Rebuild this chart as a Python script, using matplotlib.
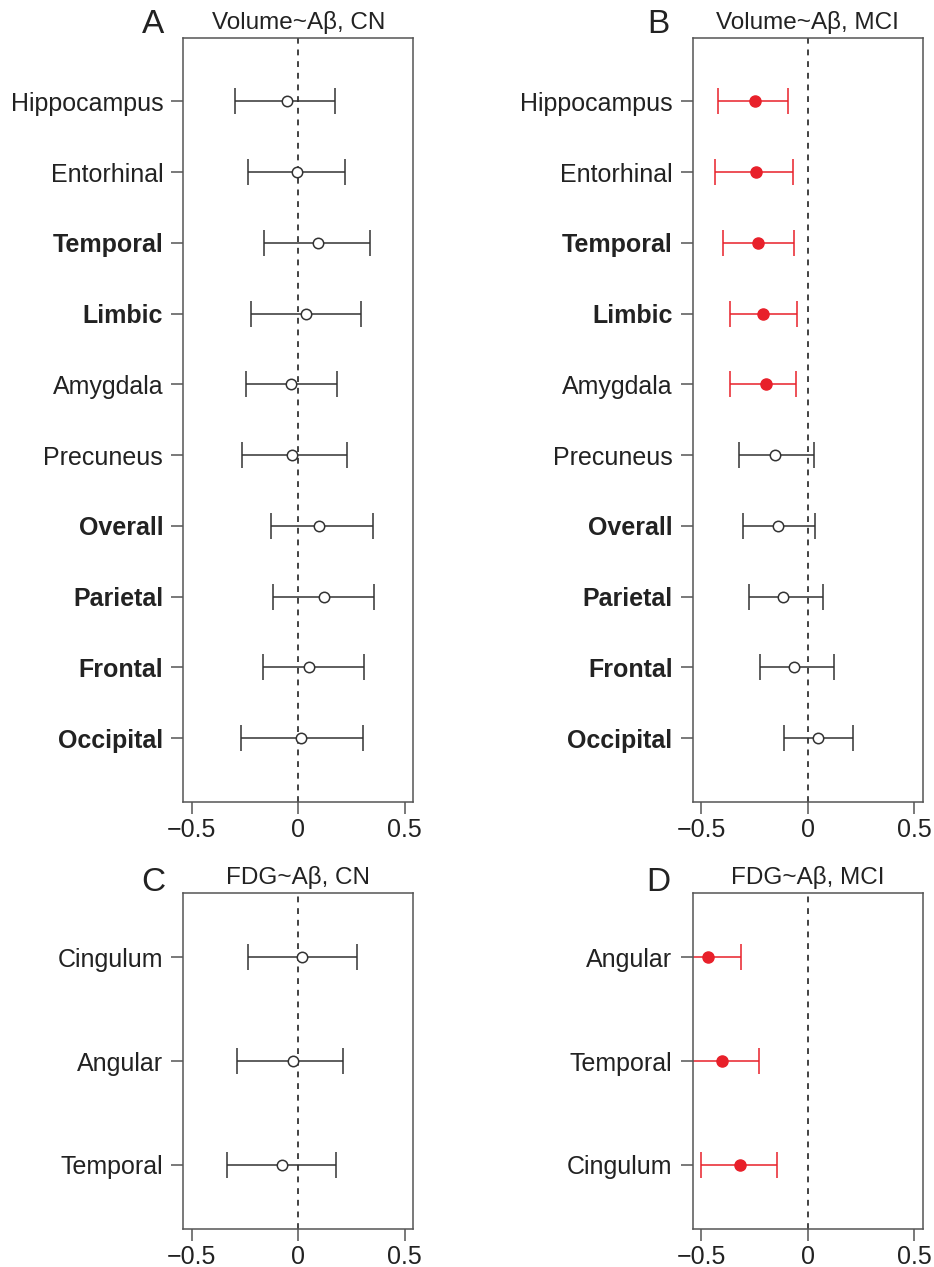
"""Forest plots of regional Abeta associations (volume and FDG)."""

import matplotlib
matplotlib.use("Agg")
import matplotlib.pyplot as plt

plt.rcParams["font.family"] = ["Liberation Sans", "DejaVu Sans"]

# --- data ----------------------------------------------------------------
vol_regions = ["Hippocampus", "Entorhinal", "Temporal", "Limbic", "Amygdala",
               "Precuneus", "Overall", "Parietal", "Frontal", "Occipital"]
vol_bold = [False, False, True, True, False, False, True, True, True, True]

cn_vol_est = [-0.052, -0.008, 0.094, 0.035, -0.036, -0.031, 0.098, 0.121, 0.052, 0.014]
cn_vol_lo = [-0.298, -0.234, -0.159, -0.220, -0.244, -0.266, -0.130, -0.118, -0.167, -0.267]
cn_vol_hi = [0.170, 0.219, 0.336, 0.296, 0.184, 0.227, 0.353, 0.354, 0.309, 0.304]
cn_vol_sig = [False] * 10

mci_vol_est = [-0.246, -0.245, -0.232, -0.209, -0.198, -0.152, -0.140, -0.115, -0.063, 0.049]
mci_vol_lo = [-0.421, -0.436, -0.396, -0.366, -0.364, -0.323, -0.302, -0.276, -0.223, -0.111]
mci_vol_hi = [-0.092, -0.067, -0.064, -0.052, -0.053, 0.030, 0.035, 0.072, 0.124, 0.211]
mci_vol_sig = [True, True, True, True, True, False, False, False, False, False]

cn_fdg_regions = ["Cingulum", "Angular", "Temporal"]
cn_fdg_est = [0.017, -0.027, -0.076]
cn_fdg_lo = [-0.234, -0.290, -0.335]
cn_fdg_hi = [0.274, 0.211, 0.175]
cn_fdg_sig = [False, False, False]

mci_fdg_regions = ["Angular", "Temporal", "Cingulum"]
mci_fdg_est = [-0.469, -0.402, -0.316]
mci_fdg_lo = [-0.626, -0.575, -0.502]
mci_fdg_hi = [-0.312, -0.229, -0.146]
mci_fdg_sig = [True, True, True]

RED = "#e8202a"
INK = "#333333"
FRAME = "#555555"


def draw_panel(ax, labels, est, lo, hi, sig, bold, title):
    n = len(labels)
    ys = list(range(1, n + 1))
    ax.axvline(0, color="#222222", lw=1.2, ls=(0, (3.5, 3.5)), zorder=1)
    for y, e, l, h, s in zip(ys, est, lo, hi, sig):
        col = RED if s else INK
        ax.errorbar([e], [y], xerr=[[e - l], [h - e]], fmt="none",
                    ecolor=col, elinewidth=1.1, capsize=9.5, capthick=1.1,
                    zorder=2)
        if s:
            ax.plot([e], [y], "o", ms=8, color=RED, zorder=3)
        else:
            ax.plot([e], [y], "o", ms=7.5, mfc="white", mec=INK, mew=1.1,
                    zorder=3)
    ax.set_xlim(-0.54, 0.54)
    pad = 0.04 * n
    ax.set_ylim(n + 0.5 + pad, 0.5 - pad)
    ax.set_xticks([-0.5, 0, 0.5])
    ax.set_xticklabels(["\u22120.5", "0", "0.5"])
    ax.set_yticks(ys)
    ax.set_yticklabels(labels)
    for lab, b in zip(ax.get_yticklabels(), bold):
        if b:
            lab.set_fontweight("bold")
    ax.tick_params(axis="both", direction="out", length=8.5, width=1.1,
                   color=FRAME, labelsize=18, labelcolor="#222222")
    ax.tick_params(axis="y", pad=6)
    ax.tick_params(axis="x", pad=3)
    for sp in ax.spines.values():
        sp.set_color(FRAME)
        sp.set_linewidth(1.1)
    ax.set_title(title, fontsize=17.5, color="#222222", pad=6)


W, H = 934, 1267
fig = plt.figure(figsize=(W / 100, H / 100), dpi=100)

left_a, left_b, width = 183.3 / W, 692.7 / W, 230 / W
ax_a = fig.add_axes([left_a, 1 - 801.7 / H, width, 764 / H])
ax_b = fig.add_axes([left_b, 1 - 801.7 / H, width, 764 / H])
ax_c = fig.add_axes([left_a, 1 - 1229.3 / H, width, 336.6 / H])
ax_d = fig.add_axes([left_b, 1 - 1229.3 / H, width, 336.6 / H])

draw_panel(ax_a, vol_regions, cn_vol_est, cn_vol_lo, cn_vol_hi, cn_vol_sig,
           vol_bold, "Volume~A\u03b2, CN")
draw_panel(ax_b, vol_regions, mci_vol_est, mci_vol_lo, mci_vol_hi, mci_vol_sig,
           vol_bold, "Volume~A\u03b2, MCI")
draw_panel(ax_c, cn_fdg_regions, cn_fdg_est, cn_fdg_lo, cn_fdg_hi, cn_fdg_sig,
           [False] * 3, "FDG~A\u03b2, CN")
draw_panel(ax_d, mci_fdg_regions, mci_fdg_est, mci_fdg_lo, mci_fdg_hi,
           mci_fdg_sig, [False] * 3, "FDG~A\u03b2, MCI")

# panel letters
for letter, x, y in [("A", 153, 33), ("B", 658, 33), ("C", 153, 891), ("D", 658, 891)]:
    fig.text(x / W, 1 - y / H, letter, ha="center", va="baseline",
             fontsize=24, color="#222222")

fig.savefig("out.png", dpi=100)
plt.close(fig)
